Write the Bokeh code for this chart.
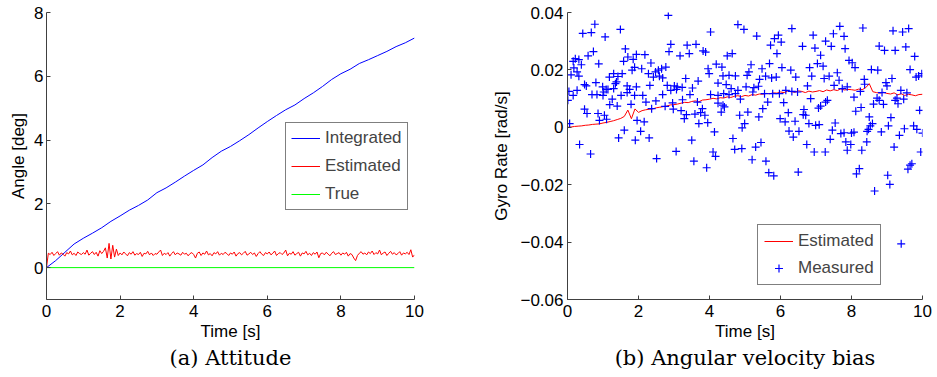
import numpy as np
from bokeh.plotting import figure
from bokeh.layouts import row
from bokeh.models import FixedTicker, Legend, LegendItem, Title
from bokeh.embed import file_html
from bokeh.resources import INLINE

# ---------------- (a) Attitude ----------------
# Integrated angle [deg], sampled every 0.25 s from 0 to 10 s
integrated_t = np.linspace(0, 10, 41)
integrated_deg = [0.00, 0.22, 0.48, 0.74, 0.92, 1.08, 1.25, 1.45, 1.62, 1.80,
                  1.95, 2.12, 2.35, 2.50, 2.68, 2.87, 3.05, 3.22, 3.45, 3.65,
                  3.80, 3.98, 4.17, 4.38, 4.58, 4.77, 4.95, 5.10, 5.30, 5.48,
                  5.68, 5.90, 6.08, 6.22, 6.40, 6.52, 6.65, 6.78, 6.93, 7.05,
                  7.20]

# Estimated angle [deg x 100], sampled every 0.05 s
estimated_t = np.linspace(0, 10, 201)
estimated_cdeg = [0, 45, 41, 48, 38, 44, 50, 39, 46, 42, 36, 47, 43, 52, 40, 45, 38, 49, 44, 41,
                  47, 42, 55, 39, 45, 50, 41, 48, 36, 53, 44, 51, 62, 30, 76, 27, 70, 33, 58, 38,
                  46, 40, 49, 43, 37, 47, 42, 50, 39, 44, 41, 48, 35, 45, 43, 51, 40, 46, 38, 44,
                  42, 49, 55, 38, 45, 41, 47, 36, 44, 50, 40, 46, 43, 39, 48, 42, 45, 37, 44, 47,
                  41, 30, 45, 49, 38, 46, 42, 52, 40, 44, 37, 47, 43, 50, 39, 45, 41, 48, 44, 38,
                  46, 42, 49, 36, 44, 47, 40, 45, 51, 39, 43, 48, 41, 46, 35, 44, 50, 42, 38, 47,
                  43, 49, 40, 45, 52, 38, 44, 47, 41, 46, 55, 37, 45, 42, 50, 39, 44, 48, 36, 46,
                  43, 51, 40, 45, 38, 47, 42, 49, 31, 44, 46, 40, 48, 43, 37, 45, 50, 41, 44, 47,
                  39, 46, 42, 48, 36, 44, 41, 30, 22, 38, 45, 50, 42, 46, 40, 49, 44, 52, 41, 47,
                  43, 55, 40, 46, 49, 38, 45, 51, 42, 47, 40, 44, 50, 39, 46, 43, 48, 41, 56, 33,
                  40]

true_t = [0, 10]
true_deg = [0, 0]

# ---------------- (b) Angular velocity bias ----------------
# Estimated bias [rad/s x 1e4], every 0.1 s
bias_t = np.linspace(0, 10, 101)
bias_e4 = [0, 1, 3, 4, 5, 7, 8, 10, 11, 12,
           15, 17, 20, 23, 27, 31, 38, 60, 30, 64,
           52, 58, 61, 63, 64, 68, 70, 72, 74, 78,
           79, 81, 84, 87, 86, 90, 92, 89, 95, 96,
           98, 101, 99, 103, 102, 106, 104, 108, 110, 107,
           111, 109, 114, 112, 116, 115, 118, 117, 120, 119,
           123, 121, 126, 124, 122, 127, 125, 121, 126, 123,
           125, 128, 124, 130, 127, 131, 128, 134, 130, 132,
           131, 129, 133, 131, 138, 152, 124, 121, 119, 122,
           118, 116, 120, 113, 117, 111, 115, 113, 110, 114,
           115]

# Measured gyro rate: time [s] and rate [rad/s x 1e4]
meas_t = [
    0.77, 0.43, 0.67, 1.49, 1.06, 1.63, 0.73, 1.70, 1.94, 1.85,
    1.58, 0.58, 0.22, 0.16, 0.32, 0.39, 0.88, 0.18, 1.89, 1.82,
    0.10, 0.27, 0.32, 1.18, 1.30, 1.42, 1.54, 1.38, 1.35, 0.48,
    0.53, 0.80, 0.99, 1.09, 1.68, 1.75, 1.94, 0.04, 0.27, 0.16,
    0.69, 0.83, 1.02, 1.14, 1.30, 1.00, 1.51, 1.68, 1.89, 0.01,
    1.26, 1.19, 1.40, 1.79, 0.48, 0.55, 0.86, 1.04, 1.10, 0.90,
    1.96, 0.06, 1.60, 1.44, 1.91, 0.34, 0.65,
    2.84, 4.03, 2.91, 3.37, 3.62, 2.86, 3.17, 3.43, 3.82, 3.89,
    2.18, 2.35, 2.09, 3.96, 3.99, 2.28, 2.48, 2.56, 2.65, 2.77,
    2.59, 2.68, 2.42, 3.33, 3.68, 2.32, 2.81, 3.01, 3.09, 3.23,
    3.52, 2.91, 3.07, 2.12, 2.68, 3.45, 4.03, 3.24, 3.66, 2.21,
    2.49, 2.96, 2.37, 2.75, 2.98, 3.20, 3.80, 3.35, 3.29, 3.59,
    3.75, 3.87, 2.16, 3.95, 3.70, 2.06, 2.30, 3.50, 3.06, 2.51,
    3.56, 3.92,
    4.80, 4.97, 5.33, 5.83, 5.94, 6.02, 5.72, 5.90, 4.50, 4.64,
    4.19, 4.35, 6.04, 5.17, 5.48, 5.69, 4.38, 4.55, 4.73, 5.11,
    5.06, 5.41, 5.58, 5.75, 5.88, 4.24, 4.47, 4.61, 4.80, 5.03,
    5.25, 5.38, 4.24, 4.40, 4.55, 4.73, 5.22, 5.55, 5.78, 5.97,
    6.09, 4.87, 5.64, 4.38, 4.42, 4.24, 4.33, 5.50, 5.08, 4.85,
    5.39, 5.99, 4.99, 4.92, 4.14, 4.66, 5.45, 5.30, 4.71, 4.91,
    4.10, 4.17, 5.20, 5.59, 5.67, 5.81,
    6.32, 7.67, 7.79, 7.49, 6.92, 7.27, 7.43, 6.62, 6.97, 7.82,
    7.13, 7.93, 8.02, 8.10, 7.04, 7.20, 6.82, 6.29, 7.60, 6.43,
    6.88, 7.37, 7.23, 7.65, 7.51, 6.76, 7.88, 7.74, 6.15, 6.32,
    6.48, 8.07, 6.85, 7.32, 7.27, 7.13, 7.07, 8.12, 6.66, 6.22,
    6.71, 6.64, 6.41, 6.13, 6.80, 6.99, 7.09, 7.54, 7.46, 6.24,
    6.52, 7.70, 7.79, 8.00, 8.07, 6.36, 7.40, 7.84, 7.98, 7.88,
    6.74, 6.95, 7.26, 6.50, 8.14,
    8.32, 9.17, 9.44, 9.61, 8.78, 8.93, 9.23, 9.53, 9.78, 8.56,
    8.74, 9.65, 9.82, 9.98, 9.89, 8.36, 9.14, 8.37, 8.97, 9.00,
    8.25, 9.39, 9.56, 8.86, 8.72, 8.78, 8.62, 8.90, 9.28, 9.47,
    9.23, 9.31, 8.27, 9.92, 8.50, 9.11, 8.59, 8.53, 8.48, 8.44,
    8.84, 9.04, 9.49, 9.75, 9.84, 10.0, 9.35, 8.43, 8.29, 9.20,
    9.95, 8.22, 9.70, 9.65, 9.59, 9.02, 9.08, 8.65, 9.40,
]
meas_e4 = [
    359, 327, 330, 341, 315, 273, 264, 245, 254, 237,
    230, 249, 239, 230, 236, 218, 221, 207, 209, 199,
    183, 193, 178, 175, 187, 177, 187, 158, 152, 149,
    144, 156, 141, 132, 144, 132, 141, 125, 129, 111,
    114, 114, 123, 132, 135, 111, 111, 121, 111, 94,
    98, 79, 74, 80, 63, 48, 48, 42, 28, 24,
    24, 13, -10, -37, -45, -60, -93,
    390, 332, 289, 286, 289, 264, 249, 257, 266, 262,
    253, 224, 204, 204, 187, 187, 193, 199, 204, 210,
    178, 172, 175, 170, 161, 146, 146, 144, 141, 139,
    137, 129, 132, 111, 114, 114, 114, 96, 88, 88,
    92, 85, 65, 73, 63, 58, 65, 44, 30, 46,
    51, 42, 19, 16, 13, -14, -37, -45, -84, -109,
    -118, -141,
    358, 341, 318, 309, 321, 297, 286, 257, 249, 257,
    220, 210, 208, 218, 204, 222, 179, 181, 179, 193,
    181, 167, 178, 172, 175, 154, 149, 135, 129, 141,
    138, 143, 111, 117, 114, 117, 123, 117, 117, 117,
    86, 98, 88, 77, 71, 84, 53, 65, 53, 42,
    36, 30, 13, -2, -16, -39, -53, -69, -77, -74,
    -86, -101, -113, -118, -158, -169,
    344, 352, 317, 326, 321, 300, 282, 282, 276, 274,
    251, 233, 225, 208, 222, 213, 208, 199, 190, 175,
    178, 178, 170, 164, 146, 144, 141, 135, 129, 125,
    123, 105, 100, 94, 88, 74, 67, 56, 62, 51,
    42, 44, 21, 19, 13, 7, 9, 15, -10, -13,
    -14, -22, -19, -20, -17, -34, -42, -51, -60, -80,
    -60, -86, -86, -156, -162,
    346, 336, 332, 344, 283, 268, 268, 280, 247, 201,
    199, 201, 175, 187, 179, 167, 170, 150, 156, 144,
    125, 129, 120, 121, 102, 94, 81, 80, 102, 98,
    94, 82, 69, 59, 36, 34, 13, 5, -7, -14,
    -16, 5, -5, 5, -7, -20, -28, -51, -80, -69,
    -86, -144, -127, -132, -146, -167, -199, -222, -406,
]

x_ticks = [0, 2, 4, 6, 8, 10]
angle_ticks = [0, 2, 4, 6, 8]
rate_ticks = [-0.06, -0.04, -0.02, 0, 0.02, 0.04]
rate_tick_labels = {-0.06: "\u22120.06", -0.04: "\u22120.04", -0.02: "\u22120.02",
                    0: "0", 0.02: "0.02", 0.04: "0.04"}

SANS = "Liberation Sans"
SERIF = "DejaVu Serif"
AX = "#404040"


def style(p):
    for ax in p.axis:
        ax.axis_line_color = AX
        ax.axis_line_width = 1
        ax.major_tick_line_color = AX
        ax.major_tick_in = 4
        ax.major_tick_out = 0
        ax.minor_tick_line_color = None
        ax.major_label_text_font = SANS
        ax.major_label_text_font_size = "17px"
        ax.major_label_text_color = "black"
        ax.axis_label_text_font = SANS
        ax.axis_label_text_font_size = "17px"
        ax.axis_label_text_font_style = "normal"
        ax.axis_label_text_color = "black"
    p.xaxis.major_label_standoff = 5
    p.xaxis.axis_label_standoff = 2
    p.yaxis.major_label_standoff = 3
    p.grid.visible = False
    p.outline_line_color = None
    p.background_fill_color = "white"
    p.border_fill_color = "white"


def style_legend(lg):
    lg.border_line_color = "black"
    lg.border_line_width = 1.5
    lg.background_fill_color = "white"
    lg.background_fill_alpha = 1
    lg.label_text_font = SANS
    lg.label_text_font_size = "17px"
    lg.glyph_width = 29
    lg.glyph_height = 20
    lg.label_height = 20
    lg.label_standoff = 5
    lg.margin = 0


def caption(p, text, offset):
    p.add_layout(Title(text=text, align="center", offset=offset, standoff=1,
                       text_font=SERIF, text_font_size="21px",
                       text_font_style="normal", text_color="black"), "below")


# ---- left figure ----
p1 = figure(width=468, height=377, x_range=(0, 10), y_range=(-1, 8),
            min_border_left=46, min_border_right=54, min_border_top=12, min_border_bottom=78,
            output_backend="svg", toolbar_location=None)
r_int = p1.line(integrated_t, integrated_deg, line_color="#0000ff", line_width=1)
r_est = p1.line(estimated_t, np.array(estimated_cdeg) / 100.0, line_color="#ff0000", line_width=1)
r_true = p1.line(true_t, true_deg, line_color="#00ff00", line_width=1)
p1.xaxis.ticker = FixedTicker(ticks=x_ticks)
p1.yaxis.ticker = FixedTicker(ticks=angle_ticks)
p1.xaxis.axis_label = "Time [s]"
p1.yaxis.axis_label = "Angle [deg]"
style(p1)
p1.yaxis.axis_label_standoff = 3
lg1 = Legend(items=[LegendItem(label="Integrated", renderers=[r_int]),
                    LegendItem(label="Estimated", renderers=[r_est]),
                    LegendItem(label="True", renderers=[r_true])],
             location=(239, 89))
style_legend(lg1)
lg1.spacing = 8
lg1.padding = 5
p1.add_layout(lg1, "center")
caption(p1, "(a) Attitude", -3)

# ---- right figure ----
p2 = figure(width=469, height=377, x_range=(0, 10), y_range=(-0.06, 0.04),
            min_border_left=99, min_border_right=15, min_border_top=12, min_border_bottom=78,
            output_backend="svg", toolbar_location=None)
r_bias = p2.line(bias_t, np.array(bias_e4) * 1e-4, line_color="#ff0000", line_width=1)
r_meas = p2.scatter(meas_t, np.array(meas_e4) * 1e-4, marker="cross", size=8,
                    line_color="#0000ff", line_width=1.2)
p2.xaxis.ticker = FixedTicker(ticks=x_ticks)
p2.yaxis.ticker = FixedTicker(ticks=rate_ticks)
p2.yaxis.major_label_overrides = rate_tick_labels
p2.xaxis.axis_label = "Time [s]"
p2.yaxis.axis_label = "Gyro Rate [rad/s]"
style(p2)
p2.yaxis.major_label_standoff = 4
p2.yaxis.axis_label_standoff = 6
lg2 = Legend(items=[LegendItem(label="Estimated", renderers=[r_bias]),
                    LegendItem(label="Measured", renderers=[r_meas])],
             location=(190, 14))
style_legend(lg2)
lg2.spacing = 7
lg2.padding = 6
p2.add_layout(lg2, "center")
caption(p2, "(b) Angular velocity bias", -14)

layout = row(p1, p2)
open("out.html", "w").write(file_html(layout, INLINE))
